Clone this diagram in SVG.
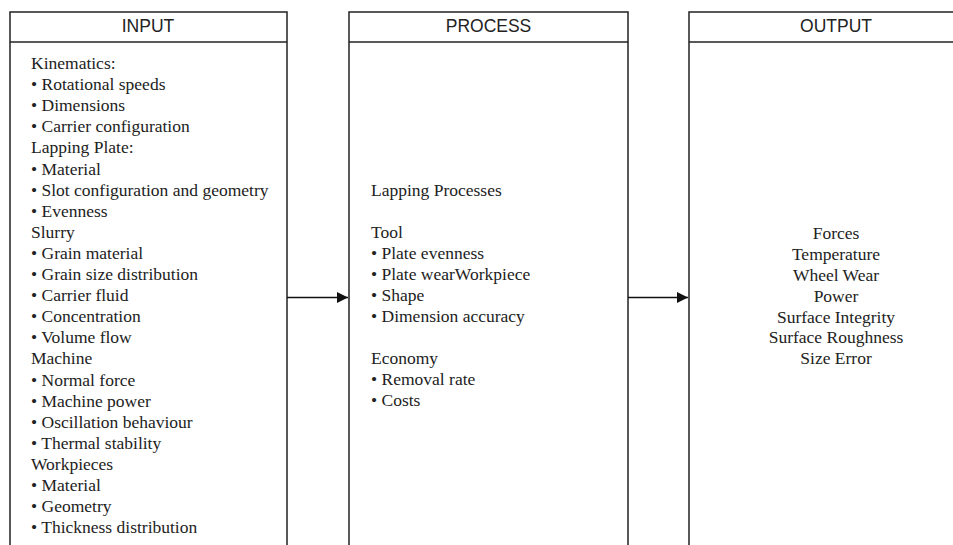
<svg xmlns="http://www.w3.org/2000/svg" width="953" height="545" viewBox="0 0 953 545">
<style>
.box{fill:#fff;stroke:#222;stroke-width:1.5}
.hl{stroke:#222;stroke-width:1.5}
.hd{font-family:"Liberation Sans",Arial,sans-serif;font-size:17.5px;fill:#222;text-anchor:middle}
.t{font-family:"Liberation Serif","Times New Roman",serif;font-size:17.5px;fill:#222}
.c{text-anchor:middle}
.con{stroke:#111;stroke-width:1.5;fill:none}
</style>
<defs>
<marker id="ah" viewBox="0 0 10 10" refX="10" refY="5" markerWidth="11" markerHeight="11" markerUnits="userSpaceOnUse" orient="auto">
<path d="M0,0 L10,5 L0,10 z" fill="#111"/>
</marker>
</defs>
<rect width="953" height="545" fill="#fff"/>
<g id="input">
<rect class="box" x="10" y="12" width="277" height="560"/>
<line class="hl" x1="10" y1="42" x2="287" y2="42"/>
<text class="hd" x="148" y="32">INPUT</text>
<text class="t" x="31" y="69">Kinematics:</text>
<text class="t" x="31" y="90">• Rotational speeds</text>
<text class="t" x="31" y="111">• Dimensions</text>
<text class="t" x="31" y="132">• Carrier configuration</text>
<text class="t" x="31" y="153">Lapping Plate:</text>
<text class="t" x="31" y="175">• Material</text>
<text class="t" x="31" y="196">• Slot configuration and geometry</text>
<text class="t" x="31" y="217">• Evenness</text>
<text class="t" x="31" y="238">Slurry</text>
<text class="t" x="31" y="259">• Grain material</text>
<text class="t" x="31" y="280">• Grain size distribution</text>
<text class="t" x="31" y="301">• Carrier fluid</text>
<text class="t" x="31" y="322">• Concentration</text>
<text class="t" x="31" y="343">• Volume flow</text>
<text class="t" x="31" y="364">Machine</text>
<text class="t" x="31" y="386">• Normal force</text>
<text class="t" x="31" y="407">• Machine power</text>
<text class="t" x="31" y="428">• Oscillation behaviour</text>
<text class="t" x="31" y="449">• Thermal stability</text>
<text class="t" x="31" y="470">Workpieces</text>
<text class="t" x="31" y="491">• Material</text>
<text class="t" x="31" y="512">• Geometry</text>
<text class="t" x="31" y="533">• Thickness distribution</text>
</g>
<g id="process">
<rect class="box" x="349" y="12" width="279" height="560"/>
<line class="hl" x1="349" y1="42" x2="628" y2="42"/>
<text class="hd" x="488.5" y="32">PROCESS</text>
<text class="t" x="371" y="196">Lapping Processes</text>
<text class="t" x="371" y="238">Tool</text>
<text class="t" x="371" y="259">• Plate evenness</text>
<text class="t" x="371" y="280">• Plate wearWorkpiece</text>
<text class="t" x="371" y="301">• Shape</text>
<text class="t" x="371" y="322">• Dimension accuracy</text>
<text class="t" x="371" y="364">Economy</text>
<text class="t" x="371" y="385">• Removal rate</text>
<text class="t" x="371" y="406">• Costs</text>
</g>
<g id="output">
<rect class="box" x="689" y="12" width="294" height="560"/>
<line class="hl" x1="689" y1="42" x2="983" y2="42"/>
<text class="hd" x="836" y="32">OUTPUT</text>
<text class="t c" x="836" y="239">Forces</text>
<text class="t c" x="836" y="260">Temperature</text>
<text class="t c" x="836" y="281">Wheel Wear</text>
<text class="t c" x="836" y="302">Power</text>
<text class="t c" x="836" y="323">Surface Integrity</text>
<text class="t c" x="836" y="343">Surface Roughness</text>
<text class="t c" x="836" y="364">Size Error</text>
</g>
<g id="connectors">
<line class="con" x1="287" y1="297.5" x2="348" y2="297.5" marker-end="url(#ah)"/>
<line class="con" x1="628" y1="297.5" x2="688" y2="297.5" marker-end="url(#ah)"/>
</g>
</svg>
